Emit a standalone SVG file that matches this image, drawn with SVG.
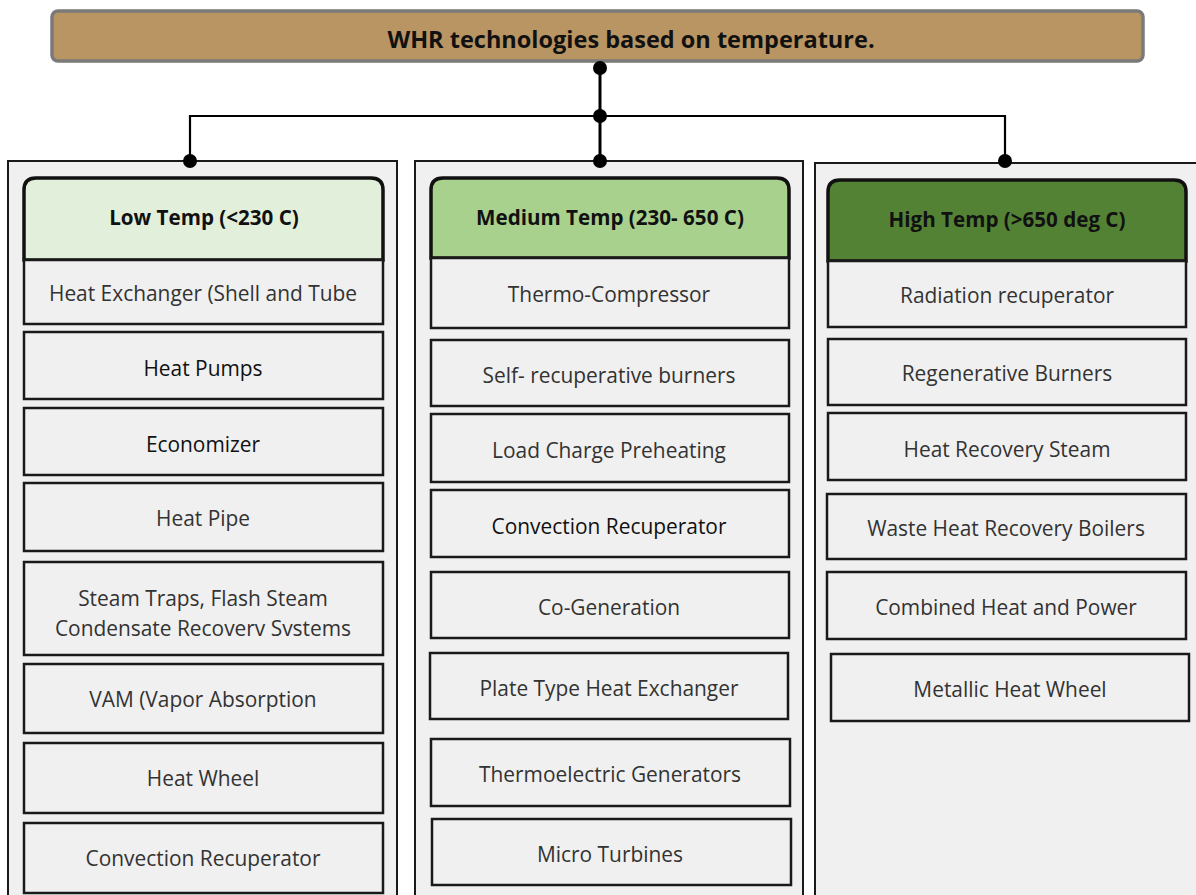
<svg xmlns="http://www.w3.org/2000/svg" width="1196" height="895" viewBox="0 0 1196 895">
<style>
.col{fill:#f0f0f0;stroke:#1a1a1a;stroke-width:2}
.item{fill:#f0f0f0;stroke:#1a1a1a;stroke-width:2.5}
.hdr{stroke:#111;stroke-width:3.5}
.t{font-family:"Open Sans",Lato,sans-serif;font-size:20.9px;fill:#333;text-anchor:middle}
.tb{font-family:"Open Sans",Lato,sans-serif;font-size:20.6px;font-weight:bold;fill:#111;text-anchor:middle}
.k{fill:#000}
.ln{fill:none;stroke:#000;stroke-width:2.2}
</style>
<rect width="1196" height="895" fill="#fff"/>
<g id="title">
<rect x="52" y="11" width="1091" height="50" rx="6" fill="#B99563" stroke="#7a7a7a" stroke-width="3.5"/>
<text x="631" y="48" class="tb" style="font-size:23.5px">WHR technologies based on temperature.</text>
</g>
<g id="col-low">
<rect class="col" x="8" y="161" width="389" height="740"/>
<path class="hdr" fill="#E2EFDA" d="M24,260 V190 Q24,178 36,178 H371 Q383,178 383,190 V260 Z"/>
<text class="tb" x="204" y="225">Low Temp (&lt;230 C)</text>
<rect class="item" x="24" y="260" width="359" height="64"/><text class="t" x="203" y="301">Heat Exchanger (Shell and Tube</text>
<rect class="item" x="24" y="332" width="359" height="67"/><text class="t" x="203" y="376" style="fill:#111">Heat Pumps</text>
<rect class="item" x="24" y="408" width="359" height="67"/><text class="t" x="203" y="452" style="fill:#111">Economizer</text>
<rect class="item" x="24" y="483" width="359" height="68"/><text class="t" x="203" y="526">Heat Pipe</text>
<rect class="item" x="24" y="562" width="359" height="93"/><text class="t" x="203" y="606">Steam Traps, Flash Steam</text><text class="t" x="203" y="636">Condensate Recoverv Svstems</text>
<rect class="item" x="24" y="664" width="359" height="69"/><text class="t" x="203" y="707">VAM (Vapor Absorption</text>
<rect class="item" x="24" y="743" width="359" height="70"/><text class="t" x="203" y="786">Heat Wheel</text>
<rect class="item" x="24" y="823" width="359" height="70"/><text class="t" x="203" y="866">Convection Recuperator</text>
</g>
<g id="col-medium">
<rect class="col" x="415" y="161" width="388" height="740"/>
<path class="hdr" fill="#A9D18E" d="M431,258 V190 Q431,178 443,178 H777 Q789,178 789,190 V258 Z"/>
<text class="tb" x="610" y="225">Medium Temp (230- 650 C)</text>
<rect class="item" x="431" y="258" width="358" height="70"/><text class="t" x="609" y="302">Thermo-Compressor</text>
<rect class="item" x="431" y="340" width="358" height="66"/><text class="t" x="609" y="383">Self- recuperative burners</text>
<rect class="item" x="431" y="414" width="358" height="68"/><text class="t" x="609" y="458">Load Charge Preheating</text>
<rect class="item" x="431" y="490" width="358" height="67"/><text class="t" x="609" y="534" style="fill:#111">Convection Recuperator</text>
<rect class="item" x="431" y="572" width="358" height="66"/><text class="t" x="609" y="615">Co-Generation</text>
<rect class="item" x="430" y="653" width="358" height="66"/><text class="t" x="609" y="696">Plate Type Heat Exchanger</text>
<rect class="item" x="431" y="739" width="359" height="67"/><text class="t" x="610" y="782">Thermoelectric Generators</text>
<rect class="item" x="432" y="819" width="359" height="66"/><text class="t" x="610" y="862">Micro Turbines</text>
</g>
<g id="col-high">
<rect class="col" x="815" y="163" width="390" height="740"/>
<path class="hdr" fill="#548235" d="M828,261 V192 Q828,180 840,180 H1174 Q1186,180 1186,192 V261 Z"/>
<text class="tb" x="1007" y="227">High Temp (&gt;650 deg C)</text>
<rect class="item" x="828" y="261" width="358" height="66"/><text class="t" x="1007" y="303">Radiation recuperator</text>
<rect class="item" x="828" y="339" width="358" height="66"/><text class="t" x="1007" y="381">Regenerative Burners</text>
<rect class="item" x="828" y="413" width="358" height="67"/><text class="t" x="1007" y="457">Heat Recovery Steam</text>
<rect class="item" x="827" y="494" width="359" height="65"/><text class="t" x="1006" y="536">Waste Heat Recovery Boilers</text>
<rect class="item" x="827" y="572" width="359" height="67"/><text class="t" x="1006" y="615">Combined Heat and Power</text>
<rect class="item" x="831" y="654" width="358" height="67"/><text class="t" x="1010" y="697">Metallic Heat Wheel</text>
</g>
<g id="connectors">
<line class="ln" x1="600" y1="68" x2="600" y2="161" style="stroke-width:3"/>
<polyline class="ln" points="190,161 190,116 1005,116 1005,161"/>
<circle class="k" cx="600" cy="68" r="7"/>
<circle class="k" cx="600" cy="116" r="7"/>
<circle class="k" cx="190" cy="161" r="7"/>
<circle class="k" cx="600" cy="161" r="7"/>
<circle class="k" cx="1005" cy="161" r="7"/>
</g>
</svg>
